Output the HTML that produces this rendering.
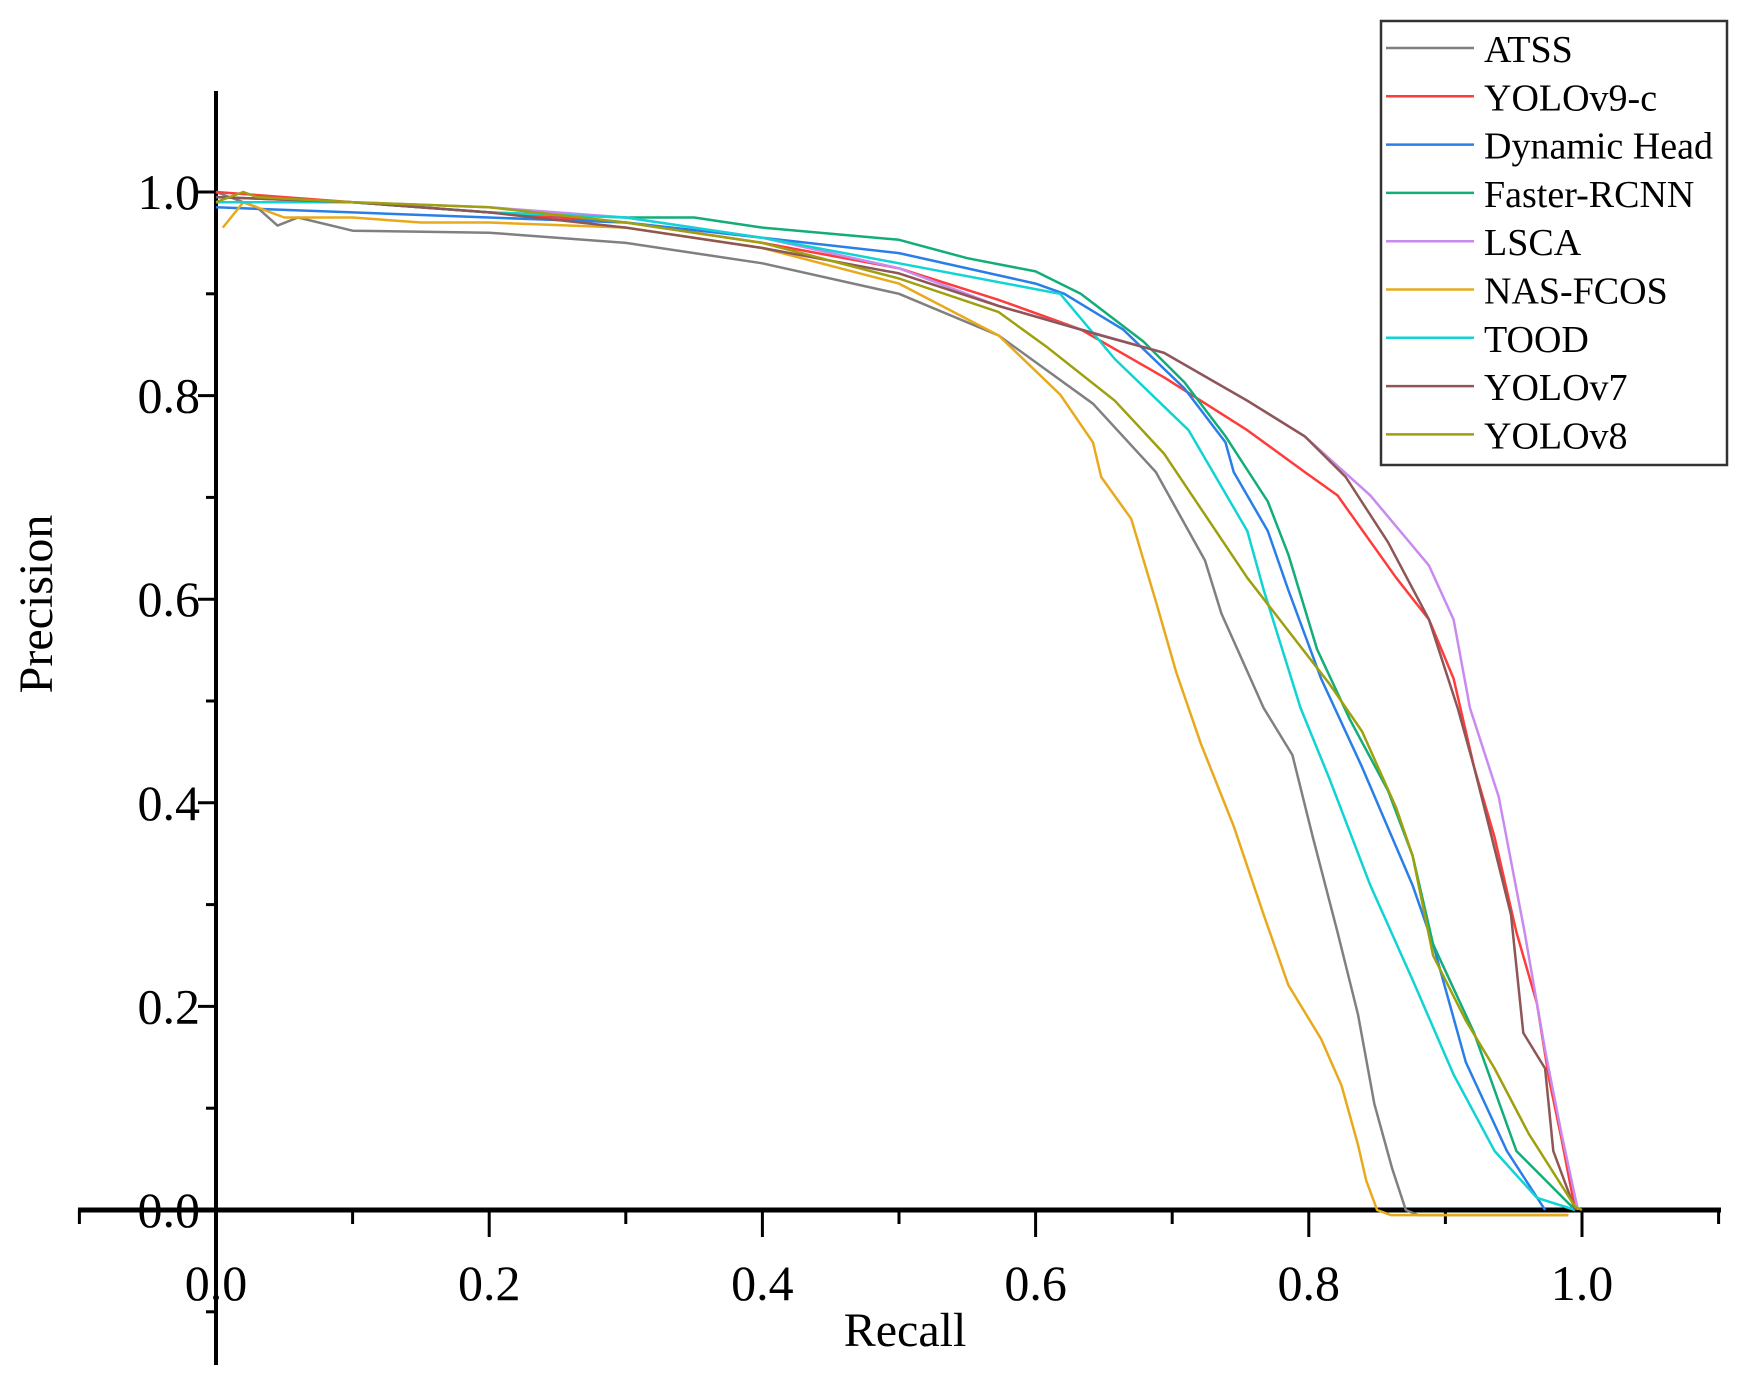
<!DOCTYPE html>
<html><head><meta charset="utf-8"><style>
html,body{margin:0;padding:0;background:#fff;}
svg{display:block;}
text{font-family:"Liberation Serif",serif;fill:#000;}
</style></head><body>
<svg id="chart" width="1738" height="1384" viewBox="0 0 1738 1384" xmlns="http://www.w3.org/2000/svg">
<g id="axes"></g>
<g id="series"></g>
<g id="legend"></g>
</svg>
<script>
const seriesNames = ["ATSS","YOLOv9-c","Dynamic Head","Faster-RCNN","LSCA","NAS-FCOS","TOOD","YOLOv7","YOLOv8"];
const seriesColors = ["#808080","#ff3c3c","#2a7ee8","#12ad78","#c98af0","#e8aa1c","#10d4d4","#8e5656","#9ea010"];
const xTicks = [0,0.2,0.4,0.6,0.8,1.0];
const xTickLabels = ["0.0","0.2","0.4","0.6","0.8","1.0"];
const yTicks = [0,0.2,0.4,0.6,0.8,1.0];
const yTickLabels = ["0.0","0.2","0.4","0.6","0.8","1.0"];

const atssX = [0,0.03,0.045,0.06,0.1,0.2,0.3,0.4,0.5,0.573,0.642,0.688,0.724,0.736,0.767,0.788,0.803,0.821,0.836,0.848,0.861,0.871,0.88,0.99];
const atssY = [1.0,0.985,0.967,0.975,0.962,0.96,0.95,0.93,0.9,0.859,0.792,0.725,0.638,0.586,0.493,0.447,0.366,0.273,0.192,0.104,0.041,0,-0.005,-0.005];
const yolo9X = [0,0.1,0.2,0.3,0.4,0.5,0.573,0.633,0.694,0.755,0.797,0.821,0.864,0.888,0.906,0.921,0.936,0.952,0.967,0.976,0.985,0.995];
const yolo9Y = [1.0,0.99,0.98,0.97,0.95,0.925,0.894,0.865,0.818,0.766,0.725,0.702,0.621,0.58,0.522,0.435,0.366,0.273,0.203,0.128,0.07,0];
const dynX = [0,0.1,0.2,0.3,0.4,0.5,0.6,0.621,0.664,0.709,0.739,0.745,0.77,0.785,0.809,0.839,0.876,0.891,0.915,0.945,0.973];
const dynY = [0.985,0.98,0.975,0.97,0.955,0.94,0.91,0.9,0.865,0.807,0.754,0.725,0.667,0.609,0.522,0.435,0.319,0.261,0.145,0.058,0];
const frcnnX = [0,0.1,0.2,0.3,0.35,0.4,0.5,0.55,0.6,0.633,0.679,0.709,0.739,0.77,0.785,0.806,0.83,0.858,0.876,0.891,0.921,0.952,0.995];
const frcnnY = [0.995,0.99,0.98,0.975,0.975,0.965,0.953,0.935,0.922,0.9,0.853,0.813,0.76,0.696,0.644,0.551,0.482,0.412,0.348,0.261,0.174,0.058,0];
const lscaX = [0,0.1,0.2,0.3,0.4,0.5,0.573,0.694,0.755,0.797,0.845,0.888,0.906,0.918,0.939,0.958,0.973,0.985,0.997];
const lscaY = [0.99,0.99,0.985,0.975,0.955,0.925,0.888,0.842,0.795,0.76,0.702,0.633,0.58,0.493,0.406,0.273,0.157,0.075,0];
const nasX = [0.005,0.02,0.05,0.1,0.15,0.2,0.3,0.4,0.5,0.573,0.618,0.642,0.648,0.67,0.688,0.703,0.721,0.745,0.767,0.785,0.809,0.824,0.836,0.842,0.85,0.86,0.99];
const nasY = [0.965,0.99,0.975,0.975,0.97,0.97,0.965,0.945,0.91,0.859,0.801,0.754,0.72,0.679,0.598,0.528,0.458,0.377,0.29,0.221,0.168,0.122,0.064,0.029,0,-0.005,-0.005];
const toodX = [0,0.1,0.2,0.3,0.4,0.5,0.618,0.658,0.712,0.755,0.767,0.794,0.815,0.845,0.876,0.906,0.936,0.967,0.995];
const toodY = [0.99,0.99,0.98,0.975,0.955,0.93,0.9,0.836,0.766,0.667,0.609,0.493,0.424,0.319,0.226,0.133,0.058,0.012,0];
const yolo7X = [0,0.1,0.2,0.3,0.4,0.5,0.573,0.648,0.694,0.755,0.797,0.827,0.858,0.888,0.909,0.921,0.933,0.948,0.957,0.973,0.979,0.995];
const yolo7Y = [0.995,0.99,0.98,0.965,0.945,0.92,0.888,0.859,0.842,0.795,0.76,0.72,0.656,0.58,0.493,0.435,0.371,0.29,0.174,0.139,0.058,0];
const yolo8X = [0,0.02,0.03,0.1,0.2,0.3,0.4,0.5,0.573,0.609,0.658,0.694,0.755,0.815,0.839,0.864,0.876,0.891,0.915,0.936,0.961,0.995,1.0];
const yolo8Y = [0.99,1.0,0.995,0.99,0.985,0.97,0.95,0.915,0.882,0.847,0.795,0.743,0.621,0.517,0.47,0.395,0.348,0.25,0.186,0.139,0.075,0.003,0];

const allX = [atssX,yolo9X,dynX,frcnnX,lscaX,nasX,toodX,yolo7X,yolo8X];
const allY = [atssY,yolo9Y,dynY,frcnnY,lscaY,nasY,toodY,yolo7Y,yolo8Y];

const NS = "http://www.w3.org/2000/svg";
function sx(v){ return 216 + v*1366; }
function sy(v){ return 1210 - v*1018; }
function mk(tag, attrs, parent){
  const e = document.createElementNS(NS, tag);
  for (const k in attrs) e.setAttribute(k, attrs[k]);
  parent.appendChild(e);
  return e;
}
const axes = document.getElementById('axes');
let yAxis = mk('line',{x1:216,y1:91,x2:216,y2:1365,stroke:'#000','stroke-width':4},axes);


let xAxis = mk('line',{x1:78,y1:1210,x2:1721,y2:1210,stroke:'#000','stroke-width':5},axes);


for (let i=-1;i<=11;i++){
  const v=i/10, major=(i%2===0);
  const t = mk('line',{x1:sx(v),y1:1210,x2:sx(v),y2:1210+(major?27:14),stroke:'#000','stroke-width':3},axes);
  
  
}
for (let i=-1;i<=10;i++){
  const v=i/10, major=(i%2===0);
  const t = mk('line',{x1:216-(major?18:10),y1:sy(v),x2:216,y2:sy(v),stroke:'#000','stroke-width':3},axes);
  
  
}
xTicks.forEach((v,i)=>{
  const t = mk('text',{x:sx(v),y:1300,'font-size':50,'text-anchor':'middle'},axes);
  t.textContent = xTickLabels[i];
  
  
});
yTicks.forEach((v,i)=>{
  const t = mk('text',{x:200,y:sy(v)+17,'font-size':50,'text-anchor':'end'},axes);
  t.textContent = yTickLabels[i];
  
  
});
let xt = mk('text',{x:905,y:1346,'font-size':48,'text-anchor':'middle'},axes);
xt.textContent='Recall';


let yt = mk('text',{x:0,y:0,'font-size':48,'text-anchor':'middle',transform:'translate(52,604) rotate(-90)'},axes);
yt.textContent='Precision';



const sg = document.getElementById('series');
allX.forEach((xs,si)=>{
  const ys = allY[si];
  const d = xs.map((x,i)=>(i?'L':'M')+sx(x).toFixed(1)+','+sy(ys[i]).toFixed(1)).join(' ');
  const p = mk('path',{d:d,fill:'none',stroke:seriesColors[si],'stroke-width':2.5,'stroke-linejoin':'round'},sg);
  
  
});

const lg = document.getElementById('legend');
let box = mk('rect',{x:1381,y:21,width:346,height:444,fill:'#fff',stroke:'#333','stroke-width':2.5},lg);


seriesNames.forEach((n,i)=>{
  const y = 48 + i*48.3;
  const l = mk('line',{x1:1386,y1:y,x2:1474,y2:y,stroke:seriesColors[i],'stroke-width':2.5},lg);
  
  
  const t = mk('text',{x:1484,y:y+14,'font-size':38},lg);
  t.textContent = n;
  
  
});
</script>
</body></html>
